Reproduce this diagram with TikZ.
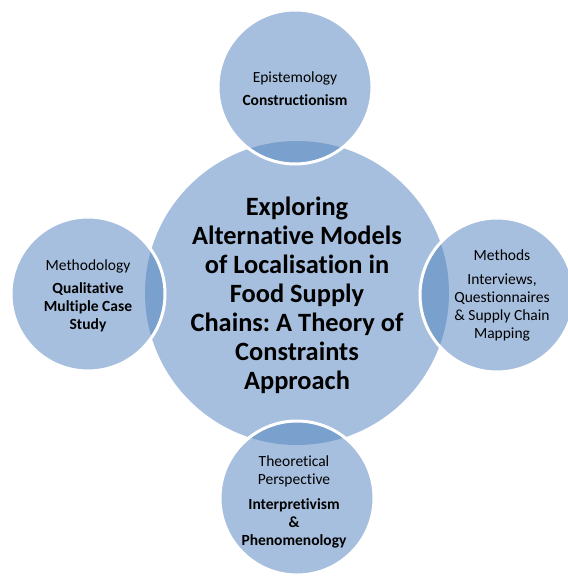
\documentclass[tikz,border=0pt]{standalone}
\usepackage{fontspec}
\setmainfont[RawFeature={-liga}]{Carlito}
\definecolor{lightb}{RGB}{167,191,222}
\definecolor{darkb}{RGB}{122,160,205}
\frenchspacing
\begin{document}
\begin{tikzpicture}[x=1pt,y=-1pt,
  satfont/.style={font=\fontsize{15.5}{18}\selectfont, align=center, text=black, inner sep=0pt},
  corefont/.style={font=\bfseries\fontsize{26.4}{29}\selectfont, align=center, text=black, inner sep=0pt},
  ring/.style={draw=white, line width=3pt}]
\useasboundingbox (0,0) rectangle (567,577);
\coordinate (c0) at (297,293);
\coordinate (sT) at (295,87);
\coordinate (sL) at (88,294);
\coordinate (sR) at (497,295);
\coordinate (sB) at (297,498);
\def\R{152pt}
\def\r{77pt}
\fill[lightb] (c0) circle[radius=\R];
\foreach \s in {sT,sL,sR,sB}{
  \fill[lightb] (\s) circle[radius=\r];
  \begin{scope}
    \clip (c0) circle[radius=\R];
    \fill[darkb] (\s) circle[radius=\r];
  \end{scope}
  \draw[ring] (\s) circle[radius=\r];
}
\node[corefont] (core) at (297,295) {Exploring\\Alternative Models\\of Localisation in\\Food Supply\\Chains: A Theory of\\Constraints\\Approach};
\node[satfont] (top) at (295,88.5) {Epistemology\\[5pt]\textbf{Constructionism}};
\node[satfont] (left) at (88,296) {Methodology\\[5pt]\textbf{Qualitative}\\\textbf{Multiple Case}\\\textbf{Study}};
\node[satfont] (right) at (502,295.5) {Methods\\[6pt]Interviews,\\Questionnaires\\\& Supply Chain\\Mapping};
\node[satfont] (bottom) at (294,502) {Theoretical\\Perspective\\[7pt]\textbf{Interpretivism}\\\textbf{\&}\\\textbf{Phenomenology}};
\end{tikzpicture}
\end{document}
